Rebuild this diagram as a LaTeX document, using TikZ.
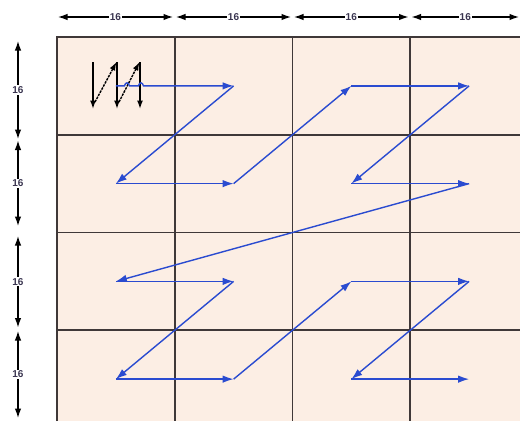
\documentclass[tikz,border=0pt]{standalone}
\usepackage{fontspec}
\setmainfont{Liberation Sans}
\usepackage{tikz}
\usetikzlibrary{arrows.meta,calc}
\definecolor{clBlock}{HTML}{FCEEE4}
\definecolor{clGrid}{HTML}{3F3838}
\definecolor{clScan}{HTML}{2A4BD0}
\definecolor{clDim}{HTML}{3A3550}
\tikzset{
  blockbg/.style={fill=clBlock, draw=none},
  gridline/.style={draw=clGrid, line width=1.7pt},
  scan/.style={-{Latex[length=11pt,width=7.5pt]}, draw=clScan, line width=1.4pt},
  dimline/.style={{Latex[length=9.5pt,width=6.5pt]}-{Latex[length=9.5pt,width=6.5pt]},
                  draw=black, line width=1.2pt},
  dimlabel/.style={font=\bfseries\fontsize{10}{11}\selectfont, text=clDim, fill=white, inner sep=1pt},
  pixdown/.style={-{Latex[length=8.5pt,width=6pt]}, draw=black, line width=1.4pt},
  pixback/.style={pixdown, dash pattern=on 2.5pt off 1pt},
}

\begin{document}
\begin{tikzpicture}[x=1pt, y=-1pt]
  \useasboundingbox (0,0) rectangle (520,421);
  \def\cw{117.75} \def\ch{97.75}
  \fill[blockbg] (57,37) rectangle (520,421);
  \draw[gridline] (57,421) -- (57,37) -- (520,37);
  \foreach \x in {174.75,292.5,410.25} \draw[gridline] (\x,37) -- (\x,421);
  \foreach \y in {134.75,232.5,330.25} \draw[gridline] (57,\y) -- (520,\y);
  \foreach \c in {0,...,3} \foreach \r in {0,...,3}
    \coordinate (b-\c-\r) at ({57+(\c+0.5)*\cw},{37+(\r+0.5)*\ch});

  \foreach \k/\x in {1/93,2/117,3/140} {
    \coordinate (zt\k) at (\x,62); \coordinate (zb\k) at (\x,109);
    \draw[pixdown] (zt\k) -- (zb\k);
  }
  \draw[pixback] ($(zb1)+(2,-7)$) -- ($(zt2)+(-0.5,0)$);
  \draw[pixback] ($(zb2)+(2,-7)$) -- ($(zt3)+(-0.5,0)$);

  \draw[scan] (b-0-0) -- ++(8.6,0) .. controls +(1,-4) and +(-1,-4) .. ++(5,0)
    -- ++(9,0) .. controls +(1,-4) and +(-1,-4) .. ++(5,0) -- (b-1-0);
  \foreach \a/\b in {1-0/0-1, 0-1/1-1, 1-1/2-0, 2-0/3-0, 3-0/2-1, 2-1/3-1, 3-1/0-2,
                     0-2/1-2, 1-2/0-3, 0-3/1-3, 1-3/2-2, 2-2/3-2, 3-2/2-3, 2-3/3-3}
    \draw[scan] (b-\a) -- (b-\b);

  \foreach \i/\l/\r in {0/58/173, 1/176/291, 2/294/408.5, 3/411.5/519} {
    \coordinate (tl\i) at (\l,17); \coordinate (tr\i) at (\r,17);
    \draw[dimline] (tl\i) -- node[dimlabel]{16} (tr\i);
  }
  \foreach \i/\t/\b in {0/41/139, 1/140.5/226, 2/236/327.5, 3/331/418} {
    \coordinate (lt\i) at (18,\t); \coordinate (lb\i) at (18,\b);
    \draw[dimline] (lt\i) -- node[dimlabel]{16} (lb\i);
  }
\end{tikzpicture}
\end{document}
